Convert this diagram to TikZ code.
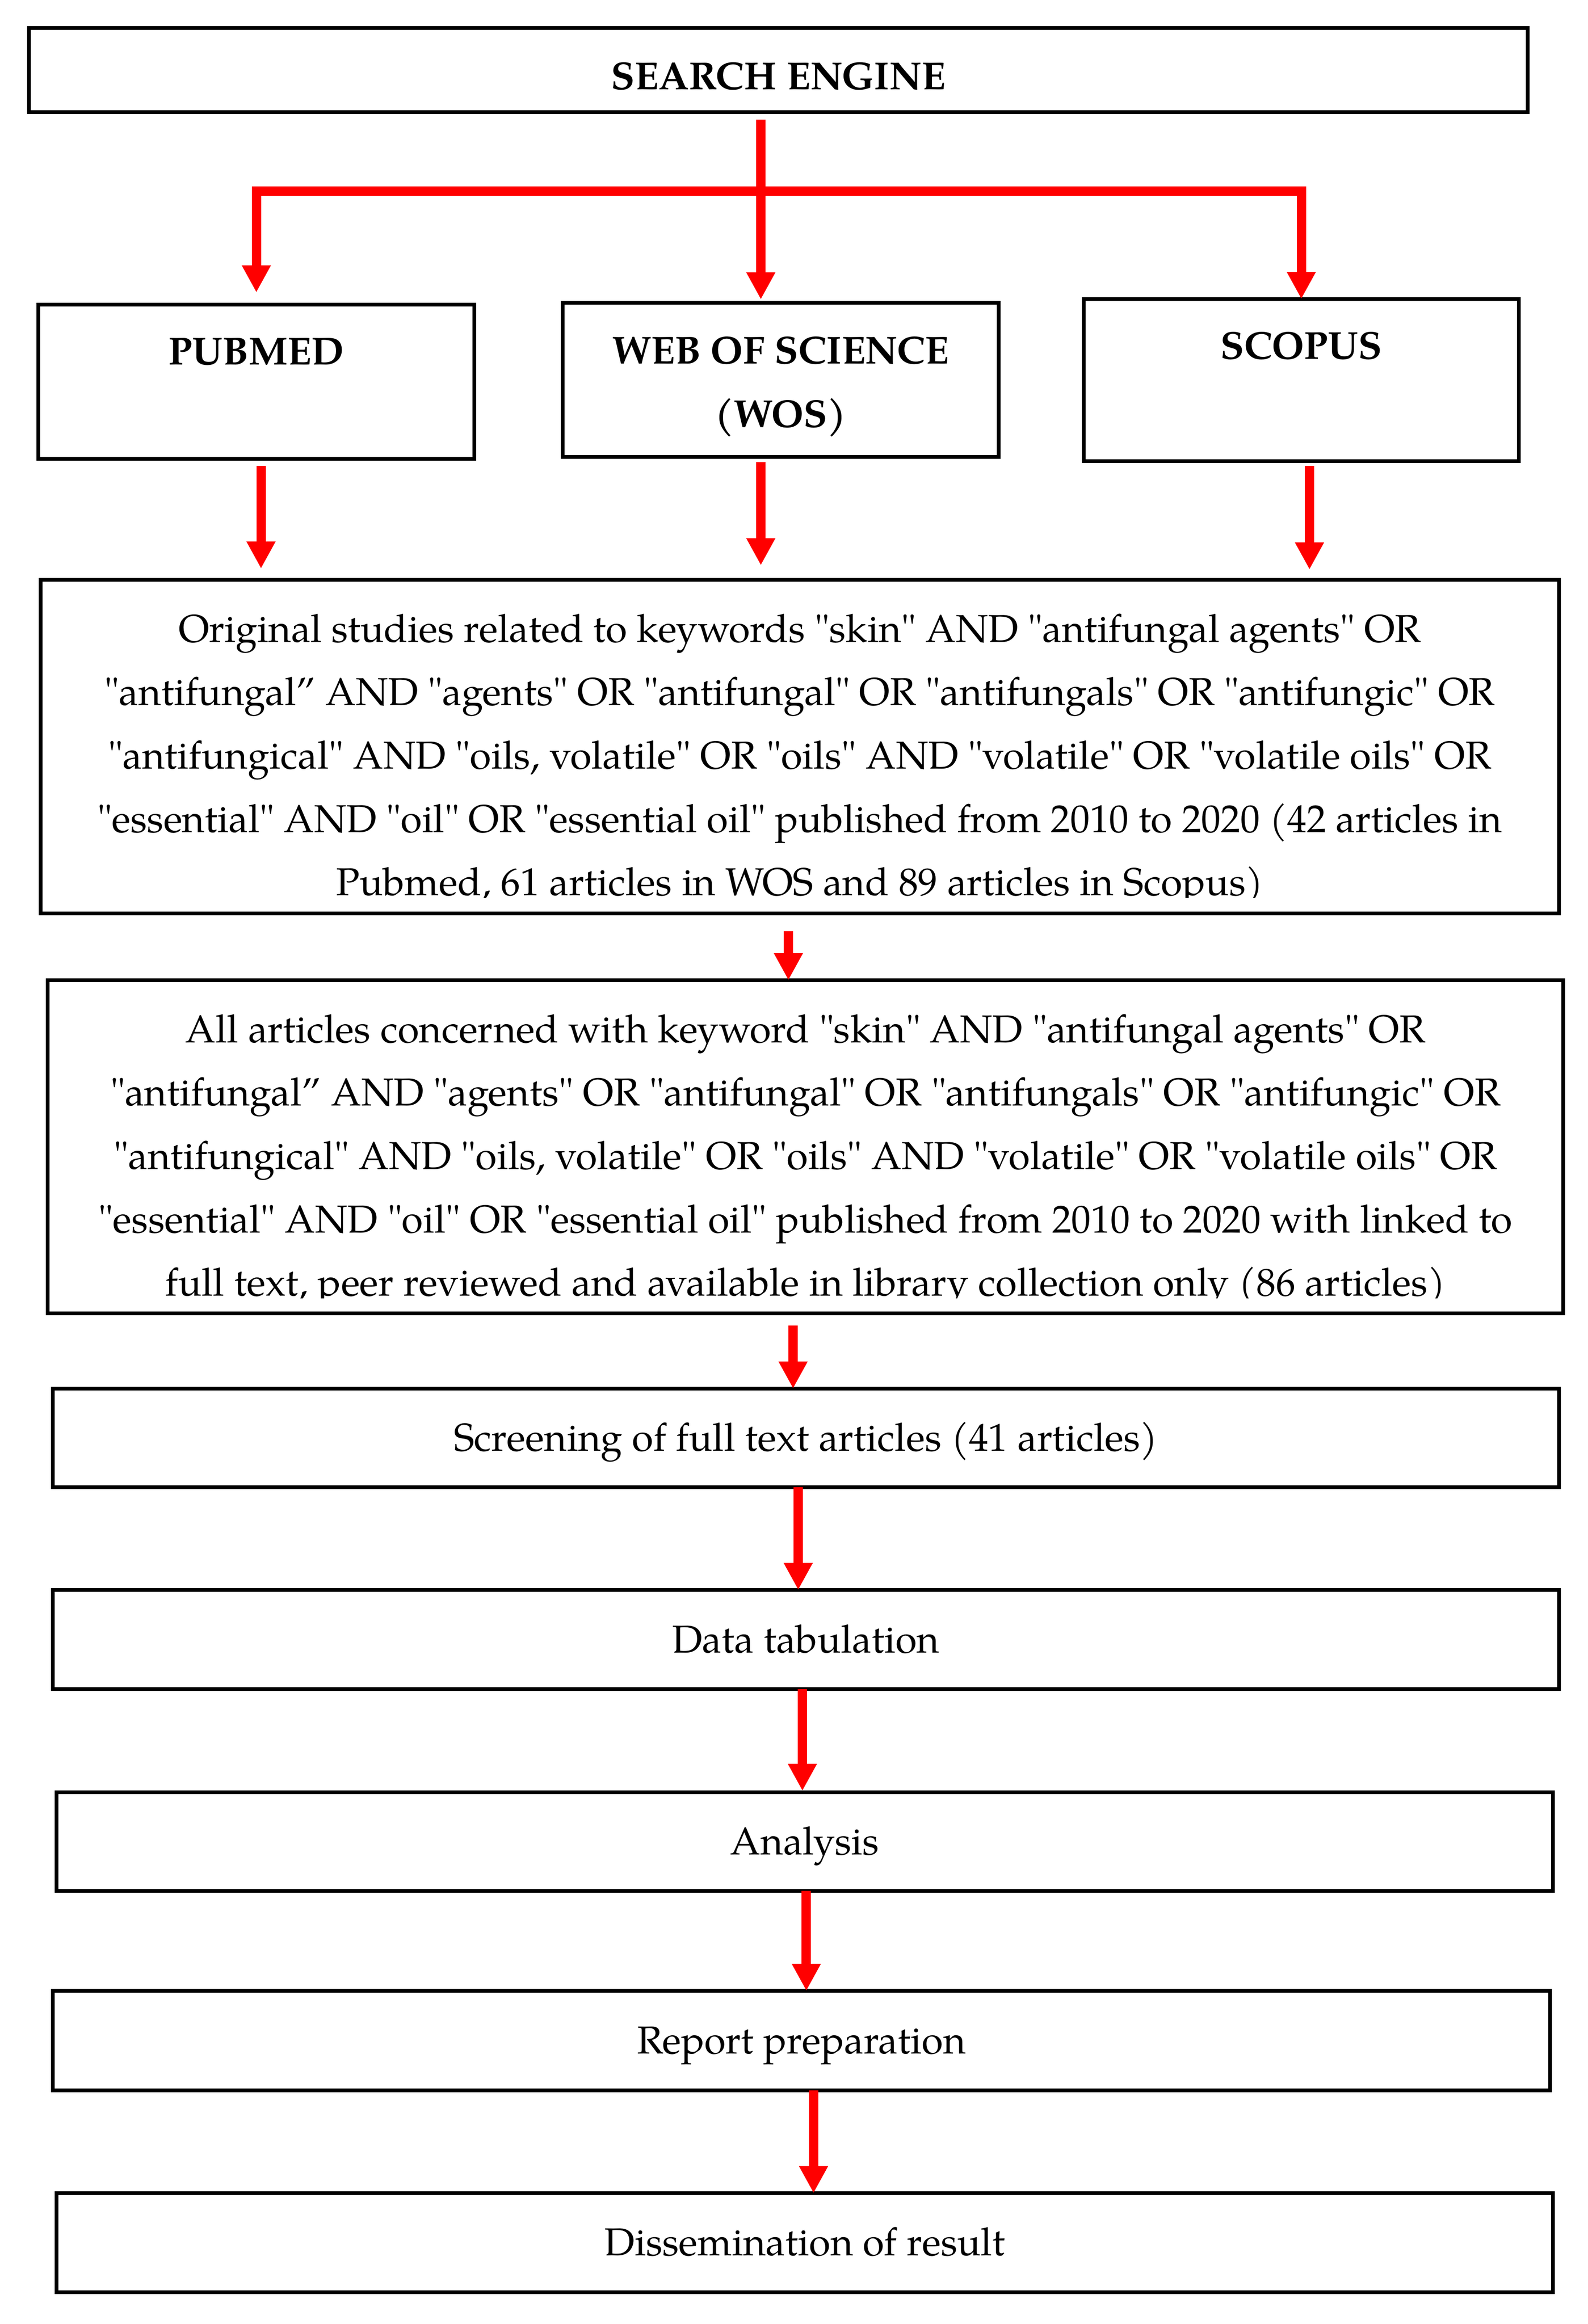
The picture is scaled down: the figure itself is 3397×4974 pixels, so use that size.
\documentclass[tikz,border=0pt]{standalone}
\usepackage{fontspec}
\setmainfont{TeX Gyre Pagella}[Ligatures=TeXOff]
\usetikzlibrary{arrows.meta}
\definecolor{arrowred}{RGB}{255,0,0}
\newcommand{\txtfont}{\fontsize{12.5}{20.36}\selectfont}
\begin{document}
\begin{tikzpicture}[x=0.15pt,y=-0.15pt,
  box/.style={draw, line width=1.2pt, inner sep=0pt, outer sep=0pt},
  lbl/.style={inner sep=0pt, outer sep=0pt, anchor=base, font=\txtfont},
  hd/.style={lbl, font=\txtfont\bfseries},
  redline/.style={draw=arrowred, line width=3pt},
  arr/.style={redline, -{Triangle[length=8.7pt, width=8.7pt]}}]
\fill[white] (0,0) rectangle (3397,4974);
\useasboundingbox (0,0) rectangle (3397,4974);

% top level
\node[box, minimum width=481.05pt, minimum height=27.075pt] (se) at (1665.5,150.25) {};
\node[hd] (setxt) at (1665.5,191.7) {SEARCH ENGINE};

\node[box, minimum width=139.95pt, minimum height=49.5pt] (pubmed) at (548.5,817) {};
\node[hd] (pubtxt) at (548.5,781) {PUBMED};
\node[box, minimum width=139.95pt, minimum height=49.5pt] (wos) at (1670.5,813) {};
\node[hd] (wostxt) at (1670.5,779) {\begin{tabular}[t]{@{}c@{}}WEB OF SCIENCE\\(WOS)\end{tabular}};
\node[box, minimum width=139.65pt, minimum height=52.05pt] (scopus) at (2784.5,813.5) {};
\node[hd] (scotxt) at (2784.5,769) {SCOPUS};

\coordinate (hub) at (1628,409);
\draw[redline, shorten <=2.3pt] (se.south -| hub) -- (hub);
\draw[arr, shorten >=3.9pt] (hub) -| (pubmed.north);
\draw[arr, shorten >=1.05pt] (hub) -- (hub |- wos.north);
\draw[arr] (hub) -| (scopus.north);

% box 1
\node[box, minimum width=487.41pt, minimum height=107.025pt] (q1) at (1711.3,1598.25) {};
\begin{scope}
\clip (0,1200) rectangle (3397,1921);
\node[lbl] (q1txt) at (1711.3,1374) {\begin{tabular}[t]{@{}c@{}}
Original studies related to keywords "skin" AND "antifungal agents" OR\\
"antifungal” AND "agents" OR "antifungal" OR "antifungals" OR "antifungic" OR\\
"antifungical" AND "oils, volatile" OR "oils" AND "volatile" OR "volatile oils" OR\\
"essential" AND "oil" OR "essential oil" published from 2010 to 2020 (42 articles in\\
Pubmed, 61 articles in WOS and 89 articles in Scopus)
\end{tabular}};
\end{scope}

\draw[arr, shorten <=2.25pt, shorten >=3.675pt] ([xshift=1.5pt]pubmed.south) -- ([xshift=1.5pt]pubmed.south |- q1.north);
\draw[arr, shorten <=1.65pt, shorten >=4.725pt] ([xshift=-6.375pt]wos.south) -- ([xshift=-6.375pt]wos.south |- q1.north);
\draw[arr, shorten <=1.5pt, shorten >=3.375pt] ([xshift=2.625pt]scopus.south) -- ([xshift=2.625pt]scopus.south |- q1.north);

% box 2
\node[box, minimum width=486.48pt, minimum height=106.95pt] (q2) at (1723.4,2454.5) {};
\begin{scope}
\clip (0,2050) rectangle (3397,2778);
\node[lbl] (q2txt) at (1723.4,2231) {\begin{tabular}[t]{@{}c@{}}
All articles concerned with keyword "skin" AND "antifungal agents" OR\\
"antifungal” AND "agents" OR "antifungal" OR "antifungals" OR "antifungic" OR\\
"antifungical" AND "oils, volatile" OR "oils" AND "volatile" OR "volatile oils" OR\\
"essential" AND "oil" OR "essential oil" published from 2010 to 2020 with linked to\\
full text, peer reviewed and available in library collection only (86 articles)
\end{tabular}};
\end{scope}

\draw[arr, shorten <=5.7pt] ([xshift=-3.645pt]q1.south) -- ([xshift=-3.645pt]q1.south |- q2.north);

% single-line boxes
\node[box, minimum width=483.51pt, minimum height=31.65pt] (s3) at (1724.3,3077.5) {};
\node[lbl] (s3txt) at (1724.3,3105) {Screening of full text articles (41 articles)};
\node[box, minimum width=483.51pt, minimum height=31.8pt] (s4) at (1724.3,3509) {};
\node[lbl] (s4txt) at (1724.3,3537) {Data tabulation};
\node[box, minimum width=480.3pt, minimum height=31.65pt] (s5) at (1722,3941.5) {};
\node[lbl] (s5txt) at (1722,3969) {Analysis};
\node[box, minimum width=480.66pt, minimum height=31.95pt] (s6) at (1714.8,4367.5) {};
\node[lbl] (s6txt) at (1714.8,4395.6) {Report preparation};
\node[box, minimum width=480.3pt, minimum height=31.8pt] (s7) at (1722,4800) {};
\node[lbl] (s7txt) at (1722,4827.7) {Dissemination of result};

\draw[arr, shorten <=3.9pt] ([xshift=-3.96pt]q2.south) -- ([xshift=-3.96pt]q2.south |- s3.north);
\draw[arr] ([xshift=-2.445pt]s3.south) -- ([xshift=-2.445pt]s3.south |- s4.north);
\draw[arr, shorten >=0.45pt] ([xshift=-1.1pt]s4.south) -- ([xshift=-1.1pt]s4.south |- s5.north);
\draw[arr] ([xshift=0.5pt]s5.south) -- ([xshift=0.5pt]s5.south |- s6.north);
\draw[arr] ([xshift=3.9pt]s6.south) -- ([xshift=3.9pt]s6.south |- s7.north);
\end{tikzpicture}
\end{document}
